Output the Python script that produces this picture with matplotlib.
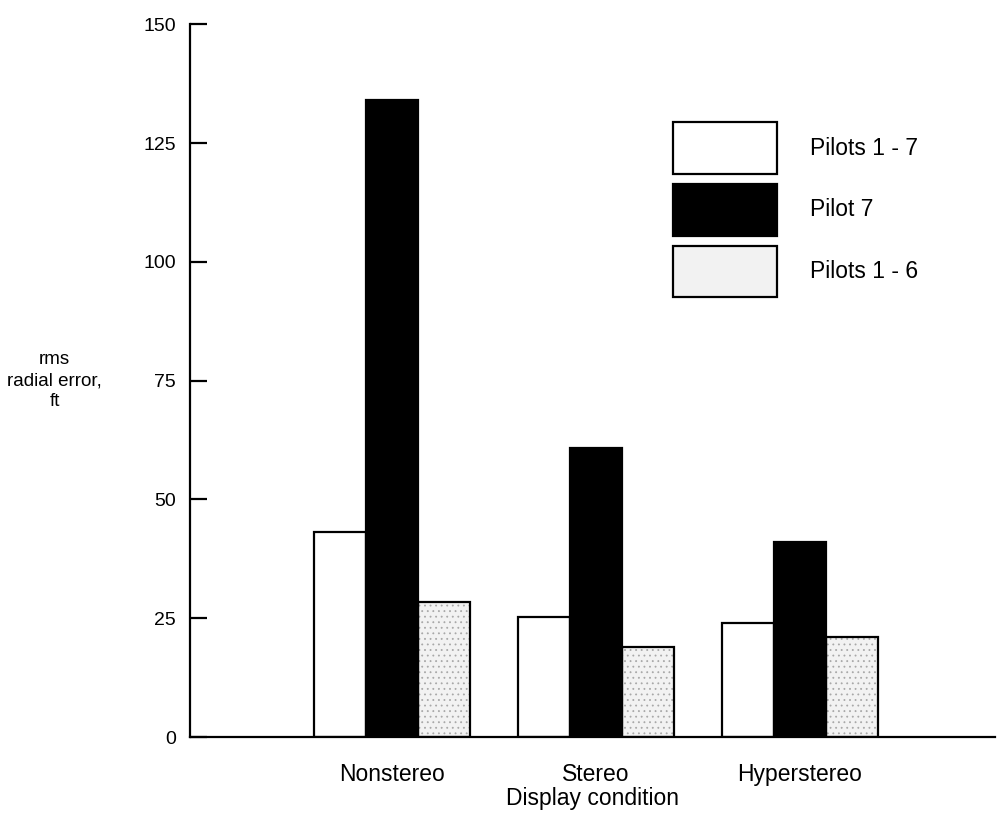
import numpy as np
import matplotlib.pyplot as plt
from matplotlib.patches import Patch

plt.rcParams['font.family'] = ['Liberation Sans', 'DejaVu Sans']
plt.rcParams.update({'figure.facecolor': 'white'})
plt.rcParams['hatch.linewidth'] = 0.6

## data
conditions = ['Nonstereo', 'Stereo', 'Hyperstereo']
series_names = ['Pilots 1 - 7', 'Pilot 7', 'Pilots 1 - 6']
pilots_1_7 = [43.2, 25.3, 24.1]
pilot_7 = [134.1, 60.8, 41.1]
pilots_1_6 = [28.4, 18.9, 21.1]
yticks = [0, 25, 50, 75, 100, 125, 150]

fig = plt.figure(figsize=(10, 8.21), dpi=100)
ax = fig.add_axes([0.19, 0.1023, 0.805, 0.868])

x = np.arange(len(conditions))
w = 0.255
lw = 1.6
big = 16.5  # category / legend text

ax.bar(x - w, pilots_1_7, w, facecolor='white', edgecolor='black', linewidth=lw, zorder=2)
ax.bar(x, pilot_7, w, facecolor='black', edgecolor='black', linewidth=lw, zorder=3)
# stippled bars: grey dots underneath, black outline on top
ax.bar(x + w, pilots_1_6, w, facecolor='#f2f2f2', edgecolor='#a8a8a8', hatch='...',
       linewidth=0, zorder=2)
ax.bar(x + w, pilots_1_6, w, facecolor='none', edgecolor='black', linewidth=lw, zorder=2)

ax.set_xlim(-0.99, 2.956)
ax.set_ylim(0, 150)

ax.spines['top'].set_visible(False)
ax.spines['right'].set_visible(False)
ax.spines['left'].set_linewidth(1.6)
ax.spines['bottom'].set_linewidth(1.6)

ax.set_yticks(yticks)
ax.tick_params(axis='y', direction='in', length=12, width=1.6, pad=10, labelsize=14)
ax.set_xticks(x)
ax.set_xticklabels(conditions)
ax.tick_params(axis='x', length=0, pad=18.5, labelsize=big)
ax.set_xlabel('Display condition', fontsize=big, labelpad=1)

ax.set_ylabel('rms\nradial error,\nft', rotation=0, fontsize=13.5, ha='center', va='center',
              linespacing=1.3)
ax.yaxis.set_label_coords(-0.168, 0.5)

# legend with big boxes
handles = [Patch(facecolor='white', edgecolor='black', linewidth=lw),
           Patch(facecolor='black', edgecolor='black', linewidth=lw),
           Patch(facecolor='#f2f2f2', edgecolor='black', linewidth=lw)]
leg = ax.legend(handles, series_names, loc='upper left', bbox_to_anchor=(0.5886, 0.876),
                frameon=False, fontsize=big, handlelength=4.54, handleheight=3.11,
                labelspacing=0.43, handletextpad=1.44, borderaxespad=0)

plt.savefig('out.png', dpi=100)
